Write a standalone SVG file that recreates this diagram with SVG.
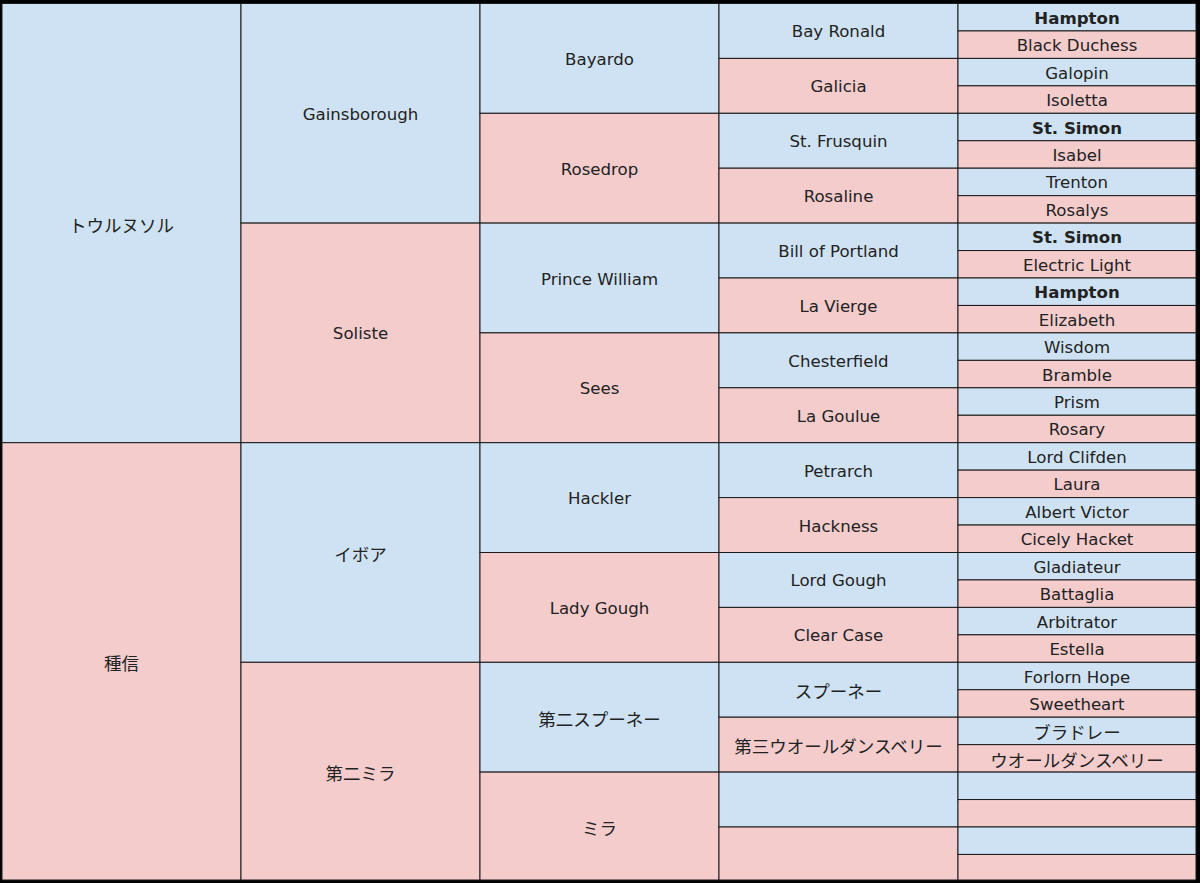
<svg xmlns="http://www.w3.org/2000/svg" width="1200" height="883" viewBox="0 0 1200 883">
<style>
.b{fill:#cfe2f3;stroke:#1a1a1a;stroke-width:1}
.p{fill:#f4cccc;stroke:#1a1a1a;stroke-width:1}
text{font-family:"DejaVu Sans","Noto Sans CJK JP",sans-serif;font-size:16.6px;fill:#222;text-anchor:middle;dominant-baseline:central;transform:translateY(1px)}
text.jp{font-family:"Noto Sans CJK JP",sans-serif;font-size:17.5px}
text.bd{font-weight:bold}
</style>
<rect x="0" y="0" width="1200" height="883" fill="#000"/>
<g id="gen1">
<g id="n1"><rect class="b" x="2" y="3.5" width="239" height="439.2"/><text class="jp" x="121.5" y="223.1">トウルヌソル</text></g>
<g id="n2"><rect class="p" x="2" y="442.7" width="239" height="437.3"/><text class="jp" x="121.5" y="661.35">種信</text></g>
</g>
<g id="gen2">
<g id="n3"><rect class="b" x="241" y="3.5" width="239" height="219.6"/><text x="360.5" y="113.3">Gainsborough</text></g>
<g id="n4"><rect class="p" x="241" y="223.1" width="239" height="219.6"/><text x="360.5" y="332.9">Soliste</text></g>
<g id="n5"><rect class="b" x="241" y="442.7" width="239" height="219.6"/><text class="jp" x="360.5" y="552.5">イボア</text></g>
<g id="n6"><rect class="p" x="241" y="662.3" width="239" height="217.7"/><text class="jp" x="360.5" y="771.15">第二ミラ</text></g>
</g>
<g id="gen3">
<g id="n7"><rect class="b" x="480" y="3.5" width="239" height="109.8"/><text x="599.5" y="58.4">Bayardo</text></g>
<g id="n8"><rect class="p" x="480" y="113.3" width="239" height="109.8"/><text x="599.5" y="168.2">Rosedrop</text></g>
<g id="n9"><rect class="b" x="480" y="223.1" width="239" height="109.8"/><text x="599.5" y="278">Prince William</text></g>
<g id="n10"><rect class="p" x="480" y="332.9" width="239" height="109.8"/><text x="599.5" y="387.8">Sees</text></g>
<g id="n11"><rect class="b" x="480" y="442.7" width="239" height="109.8"/><text x="599.5" y="497.6">Hackler</text></g>
<g id="n12"><rect class="p" x="480" y="552.5" width="239" height="109.8"/><text x="599.5" y="607.4">Lady Gough</text></g>
<g id="n13"><rect class="b" x="480" y="662.3" width="239" height="109.8"/><text class="jp" x="599.5" y="717.2">第二スプーネー</text></g>
<g id="n14"><rect class="p" x="480" y="772.1" width="239" height="107.9"/><text class="jp" x="599.5" y="826.05">ミラ</text></g>
</g>
<g id="gen4">
<g id="n15"><rect class="b" x="719" y="3.5" width="239" height="54.9"/><text x="838.5" y="30.95">Bay Ronald</text></g>
<g id="n16"><rect class="p" x="719" y="58.4" width="239" height="54.9"/><text x="838.5" y="85.85">Galicia</text></g>
<g id="n17"><rect class="b" x="719" y="113.3" width="239" height="54.9"/><text x="838.5" y="140.75">St. Frusquin</text></g>
<g id="n18"><rect class="p" x="719" y="168.2" width="239" height="54.9"/><text x="838.5" y="195.65">Rosaline</text></g>
<g id="n19"><rect class="b" x="719" y="223.1" width="239" height="54.9"/><text x="838.5" y="250.55">Bill of Portland</text></g>
<g id="n20"><rect class="p" x="719" y="278" width="239" height="54.9"/><text x="838.5" y="305.45">La Vierge</text></g>
<g id="n21"><rect class="b" x="719" y="332.9" width="239" height="54.9"/><text x="838.5" y="360.35">Chesterfield</text></g>
<g id="n22"><rect class="p" x="719" y="387.8" width="239" height="54.9"/><text x="838.5" y="415.25">La Goulue</text></g>
<g id="n23"><rect class="b" x="719" y="442.7" width="239" height="54.9"/><text x="838.5" y="470.15">Petrarch</text></g>
<g id="n24"><rect class="p" x="719" y="497.6" width="239" height="54.9"/><text x="838.5" y="525.05">Hackness</text></g>
<g id="n25"><rect class="b" x="719" y="552.5" width="239" height="54.9"/><text x="838.5" y="579.95">Lord Gough</text></g>
<g id="n26"><rect class="p" x="719" y="607.4" width="239" height="54.9"/><text x="838.5" y="634.85">Clear Case</text></g>
<g id="n27"><rect class="b" x="719" y="662.3" width="239" height="54.9"/><text class="jp" x="838.5" y="689.75">スプーネー</text></g>
<g id="n28"><rect class="p" x="719" y="717.2" width="239" height="54.9"/><text class="jp" x="838.5" y="744.65">第三ウオールダンスベリー</text></g>
<g id="n29"><rect class="b" x="719" y="772.1" width="239" height="54.9"/></g>
<g id="n30"><rect class="p" x="719" y="827" width="239" height="53"/></g>
</g>
<g id="gen5">
<g id="n31"><rect class="b" x="958" y="3.5" width="238" height="27.45"/><text class="bd" x="1077" y="17.225">Hampton</text></g>
<g id="n32"><rect class="p" x="958" y="30.95" width="238" height="27.45"/><text x="1077" y="44.675">Black Duchess</text></g>
<g id="n33"><rect class="b" x="958" y="58.4" width="238" height="27.45"/><text x="1077" y="72.125">Galopin</text></g>
<g id="n34"><rect class="p" x="958" y="85.85" width="238" height="27.45"/><text x="1077" y="99.575">Isoletta</text></g>
<g id="n35"><rect class="b" x="958" y="113.3" width="238" height="27.45"/><text class="bd" x="1077" y="127.025">St. Simon</text></g>
<g id="n36"><rect class="p" x="958" y="140.75" width="238" height="27.45"/><text x="1077" y="154.475">Isabel</text></g>
<g id="n37"><rect class="b" x="958" y="168.2" width="238" height="27.45"/><text x="1077" y="181.925">Trenton</text></g>
<g id="n38"><rect class="p" x="958" y="195.65" width="238" height="27.45"/><text x="1077" y="209.375">Rosalys</text></g>
<g id="n39"><rect class="b" x="958" y="223.1" width="238" height="27.45"/><text class="bd" x="1077" y="236.825">St. Simon</text></g>
<g id="n40"><rect class="p" x="958" y="250.55" width="238" height="27.45"/><text x="1077" y="264.275">Electric Light</text></g>
<g id="n41"><rect class="b" x="958" y="278" width="238" height="27.45"/><text class="bd" x="1077" y="291.725">Hampton</text></g>
<g id="n42"><rect class="p" x="958" y="305.45" width="238" height="27.45"/><text x="1077" y="319.175">Elizabeth</text></g>
<g id="n43"><rect class="b" x="958" y="332.9" width="238" height="27.45"/><text x="1077" y="346.625">Wisdom</text></g>
<g id="n44"><rect class="p" x="958" y="360.35" width="238" height="27.45"/><text x="1077" y="374.075">Bramble</text></g>
<g id="n45"><rect class="b" x="958" y="387.8" width="238" height="27.45"/><text x="1077" y="401.525">Prism</text></g>
<g id="n46"><rect class="p" x="958" y="415.25" width="238" height="27.45"/><text x="1077" y="428.975">Rosary</text></g>
<g id="n47"><rect class="b" x="958" y="442.7" width="238" height="27.45"/><text x="1077" y="456.425">Lord Clifden</text></g>
<g id="n48"><rect class="p" x="958" y="470.15" width="238" height="27.45"/><text x="1077" y="483.875">Laura</text></g>
<g id="n49"><rect class="b" x="958" y="497.6" width="238" height="27.45"/><text x="1077" y="511.325">Albert Victor</text></g>
<g id="n50"><rect class="p" x="958" y="525.05" width="238" height="27.45"/><text x="1077" y="538.775">Cicely Hacket</text></g>
<g id="n51"><rect class="b" x="958" y="552.5" width="238" height="27.45"/><text x="1077" y="566.225">Gladiateur</text></g>
<g id="n52"><rect class="p" x="958" y="579.95" width="238" height="27.45"/><text x="1077" y="593.675">Battaglia</text></g>
<g id="n53"><rect class="b" x="958" y="607.4" width="238" height="27.45"/><text x="1077" y="621.125">Arbitrator</text></g>
<g id="n54"><rect class="p" x="958" y="634.85" width="238" height="27.45"/><text x="1077" y="648.575">Estella</text></g>
<g id="n55"><rect class="b" x="958" y="662.3" width="238" height="27.45"/><text x="1077" y="676.025">Forlorn Hope</text></g>
<g id="n56"><rect class="p" x="958" y="689.75" width="238" height="27.45"/><text x="1077" y="703.475">Sweetheart</text></g>
<g id="n57"><rect class="b" x="958" y="717.2" width="238" height="27.45"/><text class="jp" x="1077" y="730.925">ブラドレー</text></g>
<g id="n58"><rect class="p" x="958" y="744.65" width="238" height="27.45"/><text class="jp" x="1077" y="758.375">ウオールダンスベリー</text></g>
<g id="n59"><rect class="b" x="958" y="772.1" width="238" height="27.45"/></g>
<g id="n60"><rect class="p" x="958" y="799.55" width="238" height="27.45"/></g>
<g id="n61"><rect class="b" x="958" y="827" width="238" height="27.45"/></g>
<g id="n62"><rect class="p" x="958" y="854.45" width="238" height="25.55"/></g>
</g>
<g id="connectors"/>
</svg>
